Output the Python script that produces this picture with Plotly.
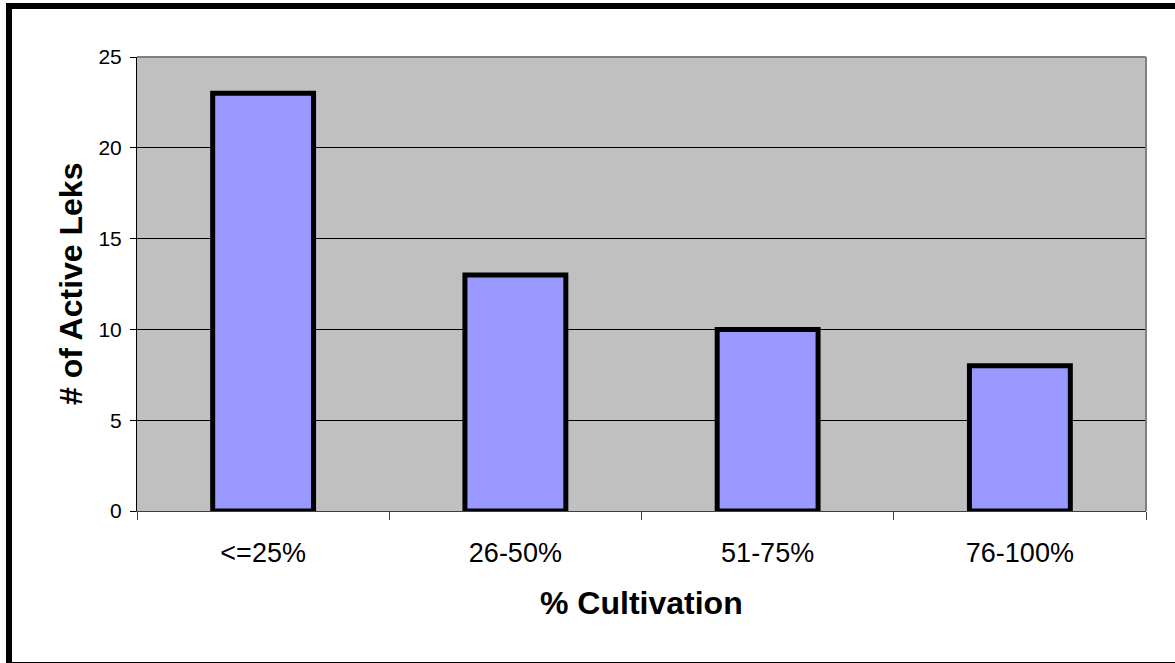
import plotly.graph_objects as go

# Active lek counts by cultivation class
categories = ["<=25%", "26-50%", "51-75%", "76-100%"]
active_leks = [23, 13, 10, 8]
y_ticks = [0, 5, 10, 15, 20, 25]

FONT = "Liberation Sans, Arial, sans-serif"

# plot area in pixels
W, H = 1175, 663
L, R, T, B = 137, 1146, 57, 511
pw, ph = R - L, B - T


def px_x(x):
    return (x - L) / pw


def px_y(y):
    return (B - y) / ph


fig = go.Figure(
    go.Bar(
        x=categories,
        y=active_leks,
        marker=dict(color="#9999FF", line=dict(color="black", width=5)),
        hoverinfo="x+y",
    )
)

fig.update_layout(
    width=W,
    height=H,
    margin=dict(l=L, r=W - R, t=T, b=H - B, pad=0),
    paper_bgcolor="white",
    plot_bgcolor="#C0C0C0",
    bargap=0.6,
    showlegend=False,
    font=dict(family=FONT, color="black"),
    xaxis=dict(
        type="category",
        tickson="boundaries",
        ticks="outside",
        ticklen=8,
        tickcolor="#404040",
        tickfont=dict(size=27, family=FONT, color="black"),
        ticklabelstandoff=18,
        showline=True,
        linecolor="#404040",
        linewidth=1,
        showgrid=False,
    ),
    yaxis=dict(
        range=[0, 25],
        tickvals=y_ticks,
        ticks="outside",
        ticklen=6,
        tickcolor="black",
        tickfont=dict(size=21, family=FONT, color="black"),
        ticklabelstandoff=4,
        showline=True,
        linecolor="black",
        linewidth=1,
        showgrid=True,
        gridcolor="black",
        gridwidth=1,
        zeroline=False,
    ),
    annotations=[
        dict(
            text="<b># of Active Leks</b>",
            xref="paper", yref="paper",
            x=px_x(71), y=0.5,
            xanchor="center", yanchor="middle",
            textangle=-90, showarrow=False,
            font=dict(size=32, family=FONT, color="black"),
        ),
        dict(
            text="<b>% Cultivation</b>",
            xref="paper", yref="paper",
            x=0.5, y=px_y(603),
            xanchor="center", yanchor="middle",
            showarrow=False,
            font=dict(size=32, family=FONT, color="black"),
        ),
    ],
    shapes=[
        # gray frame on the top and right of the plot area
        dict(type="line", xref="paper", yref="paper", x0=0, x1=1, y0=1, y1=1,
             line=dict(color="#808080", width=2), layer="above"),
        dict(type="line", xref="paper", yref="paper", x0=1, x1=1, y0=0, y1=1,
             line=dict(color="#808080", width=2), layer="above"),
        # outer chart border
        dict(type="rect", xref="paper", yref="paper",
             x0=px_x(9), x1=px_x(1181), y0=px_y(665), y1=px_y(6),
             line=dict(color="black", width=6), fillcolor="rgba(0,0,0,0)",
             layer="above"),
    ],
)

fig.write_html("out.html")
